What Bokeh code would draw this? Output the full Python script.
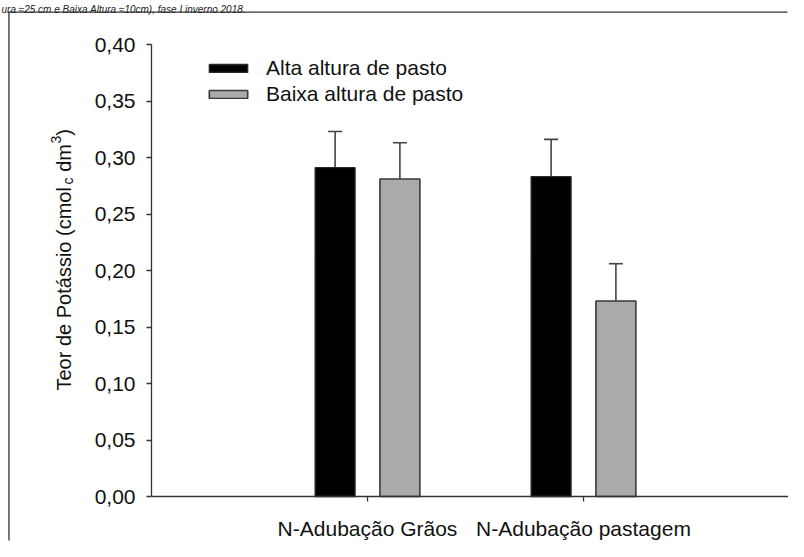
from math import pi

from bokeh.plotting import figure
from bokeh.models import (ColumnDataSource, Range1d, FixedTicker,
                          Legend, LegendItem, Label, BoxAnnotation)
from bokeh.embed import file_html
from bokeh.resources import INLINE

# ---------------- data ----------------
categories = ["N-Adubação Grãos", "N-Adubação pastagem"]
series_names = ["Alta altura de pasto", "Baixa altura de pasto"]
alta_values = [0.291, 0.283]
alta_errors = [0.032, 0.033]
baixa_values = [0.281, 0.173]
baixa_errors = [0.032, 0.033]
y_ticks = [0.00, 0.05, 0.10, 0.15, 0.20, 0.25, 0.30, 0.35, 0.40]
y_tick_labels = ["0,00", "0,05", "0,10", "0,15", "0,20", "0,25", "0,30", "0,35", "0,40"]
y_title_parts = ["Teor de Potássio (cmol", "c", "dm", "3", ")"]
caption = "ura ≈25 cm e Baixa Altura ≈10cm), fase I inverno 2018."

FONT = "Liberation Sans"
AX = "#333333"
TXT = "#111111"

# ---------------- geometry (pixels) ----------------
W, H = 788, 541
AXIS_X, AXIS_TOP, AXIS_BOTTOM = 151, 44, 496      # where the axes sit on the canvas
PX_PER_CAT = 216                                    # horizontal pixels per category step
Y_MAX = 0.40
py = (AXIS_BOTTOM - AXIS_TOP) / Y_MAX               # pixels per unit of y

x_range = Range1d(-AXIS_X / PX_PER_CAT, (W - AXIS_X) / PX_PER_CAT)
y_range = Range1d(-(H - AXIS_BOTTOM) / py, Y_MAX + AXIS_TOP / py)

x_pos = [i + 1 for i in range(len(categories))]
OFF = 0.15
BW = 0.185

src_alta = ColumnDataSource(dict(
    x=[p - OFF for p in x_pos], top=alta_values,
    upper=[v + e for v, e in zip(alta_values, alta_errors)]))
src_baixa = ColumnDataSource(dict(
    x=[p + OFF for p in x_pos], top=baixa_values,
    upper=[v + e for v, e in zip(baixa_values, baixa_errors)]))

p = figure(width=W, height=H, x_range=x_range, y_range=y_range,
           output_backend="svg", toolbar_location=None, min_border=0)

p.title.text = ""
p.outline_line_color = None
p.xgrid.visible = False
p.ygrid.visible = False
p.background_fill_color = "white"
p.border_fill_color = "white"

# outer frame of the original figure: left and top edges only
edge = dict(left_units="screen", right_units="screen", top_units="screen",
            bottom_units="screen", fill_color="#333333", fill_alpha=1, line_color=None)
p.add_layout(BoxAnnotation(left=7.8, right=9.1, top=H - 11, bottom=1, **edge))
p.add_layout(BoxAnnotation(left=7.8, right=W - 1, top=H - 11, bottom=H - 12.3, **edge))

# caption strip
p.add_layout(Label(x=1, y=H - 8.5, x_units="screen", y_units="screen", text=caption,
                   text_align="left", text_baseline="alphabetic", text_font=FONT,
                   text_font_style="italic", text_font_size="10px", text_color="#222222"))

# y axis title built from pieces (subscript / superscript)
# (baseline x, font px, gap before piece in px)
piece_specs = [(63, 20, 0.0), (67, 14, 0.5), (63, 20, 5.6), (55, 14, 0.5), (63, 20, 0.0)]
em = {"Teor de Potássio (cmol": 10.281, "c": 0.5, "dm": 1.389, "3": 0.556, ")": 0.333}
ypos = H - 390.0
for txt, (xb, fs, gap) in zip(y_title_parts, piece_specs):
    ypos += gap
    p.add_layout(Label(x=xb, y=ypos, x_units="screen", y_units="screen", text=txt,
                       angle=pi / 2, text_align="left", text_baseline="alphabetic",
                       text_font=FONT, text_font_size=f"{fs}px", text_color=TXT))
    ypos += em[txt] * fs

# error bars (upper only): stem + cap
for src in (src_alta, src_baixa):
    p.segment(x0="x", y0="top", x1="x", y1="upper", source=src,
              line_color="#444444", line_width=1.6)
    p.dash(x="x", y="upper", size=14, source=src,
           line_color="#444444", line_width=1.6)

r_alta = p.vbar(x="x", top="top", width=BW, bottom=0, source=src_alta,
                fill_color="#000000", line_color="#2a2a2a", line_width=1.3)
r_baixa = p.vbar(x="x", top="top", width=BW, bottom=0, source=src_baixa,
                 fill_color="#aaaaaa", line_color="#3a3a3a", line_width=1.6)

# axes, pinned at the data origin
for ax in (p.xaxis[0], p.yaxis[0]):
    ax.fixed_location = 0
    ax.axis_line_color = AX
    ax.axis_line_width = 1.3
    ax.major_tick_line_color = AX
    ax.major_tick_line_width = 1.3
    ax.major_tick_in = 0
    ax.major_tick_out = 5
    ax.minor_tick_line_color = None
    ax.major_label_text_font = FONT
    ax.major_label_text_font_size = "21px"
    ax.major_label_text_color = TXT

p.yaxis.bounds = (0, Y_MAX)
p.yaxis.ticker = FixedTicker(ticks=y_ticks)
p.yaxis.major_label_overrides = dict(zip(y_ticks, y_tick_labels))
p.yaxis.major_label_standoff = 11

p.xaxis.bounds = (0, len(categories) + 1)
p.xaxis.ticker = FixedTicker(ticks=x_pos)
p.xaxis.major_label_overrides = dict(zip(x_pos, categories))
p.xaxis.major_label_standoff = 15

# legend
legend = Legend(items=[LegendItem(label=series_names[0], renderers=[r_alta]),
                       LegendItem(label=series_names[1], renderers=[r_baixa])],
                location=(204, H - 106), orientation="vertical",
                glyph_width=48, glyph_height=10, label_standoff=14,
                padding=0, margin=0, spacing=2, label_height=20,
                border_line_color=None, background_fill_alpha=0,
                label_text_font=FONT, label_text_font_size="21px",
                label_text_color=TXT)
p.add_layout(legend)

open("out.html", "w").write(file_html(p, INLINE))
